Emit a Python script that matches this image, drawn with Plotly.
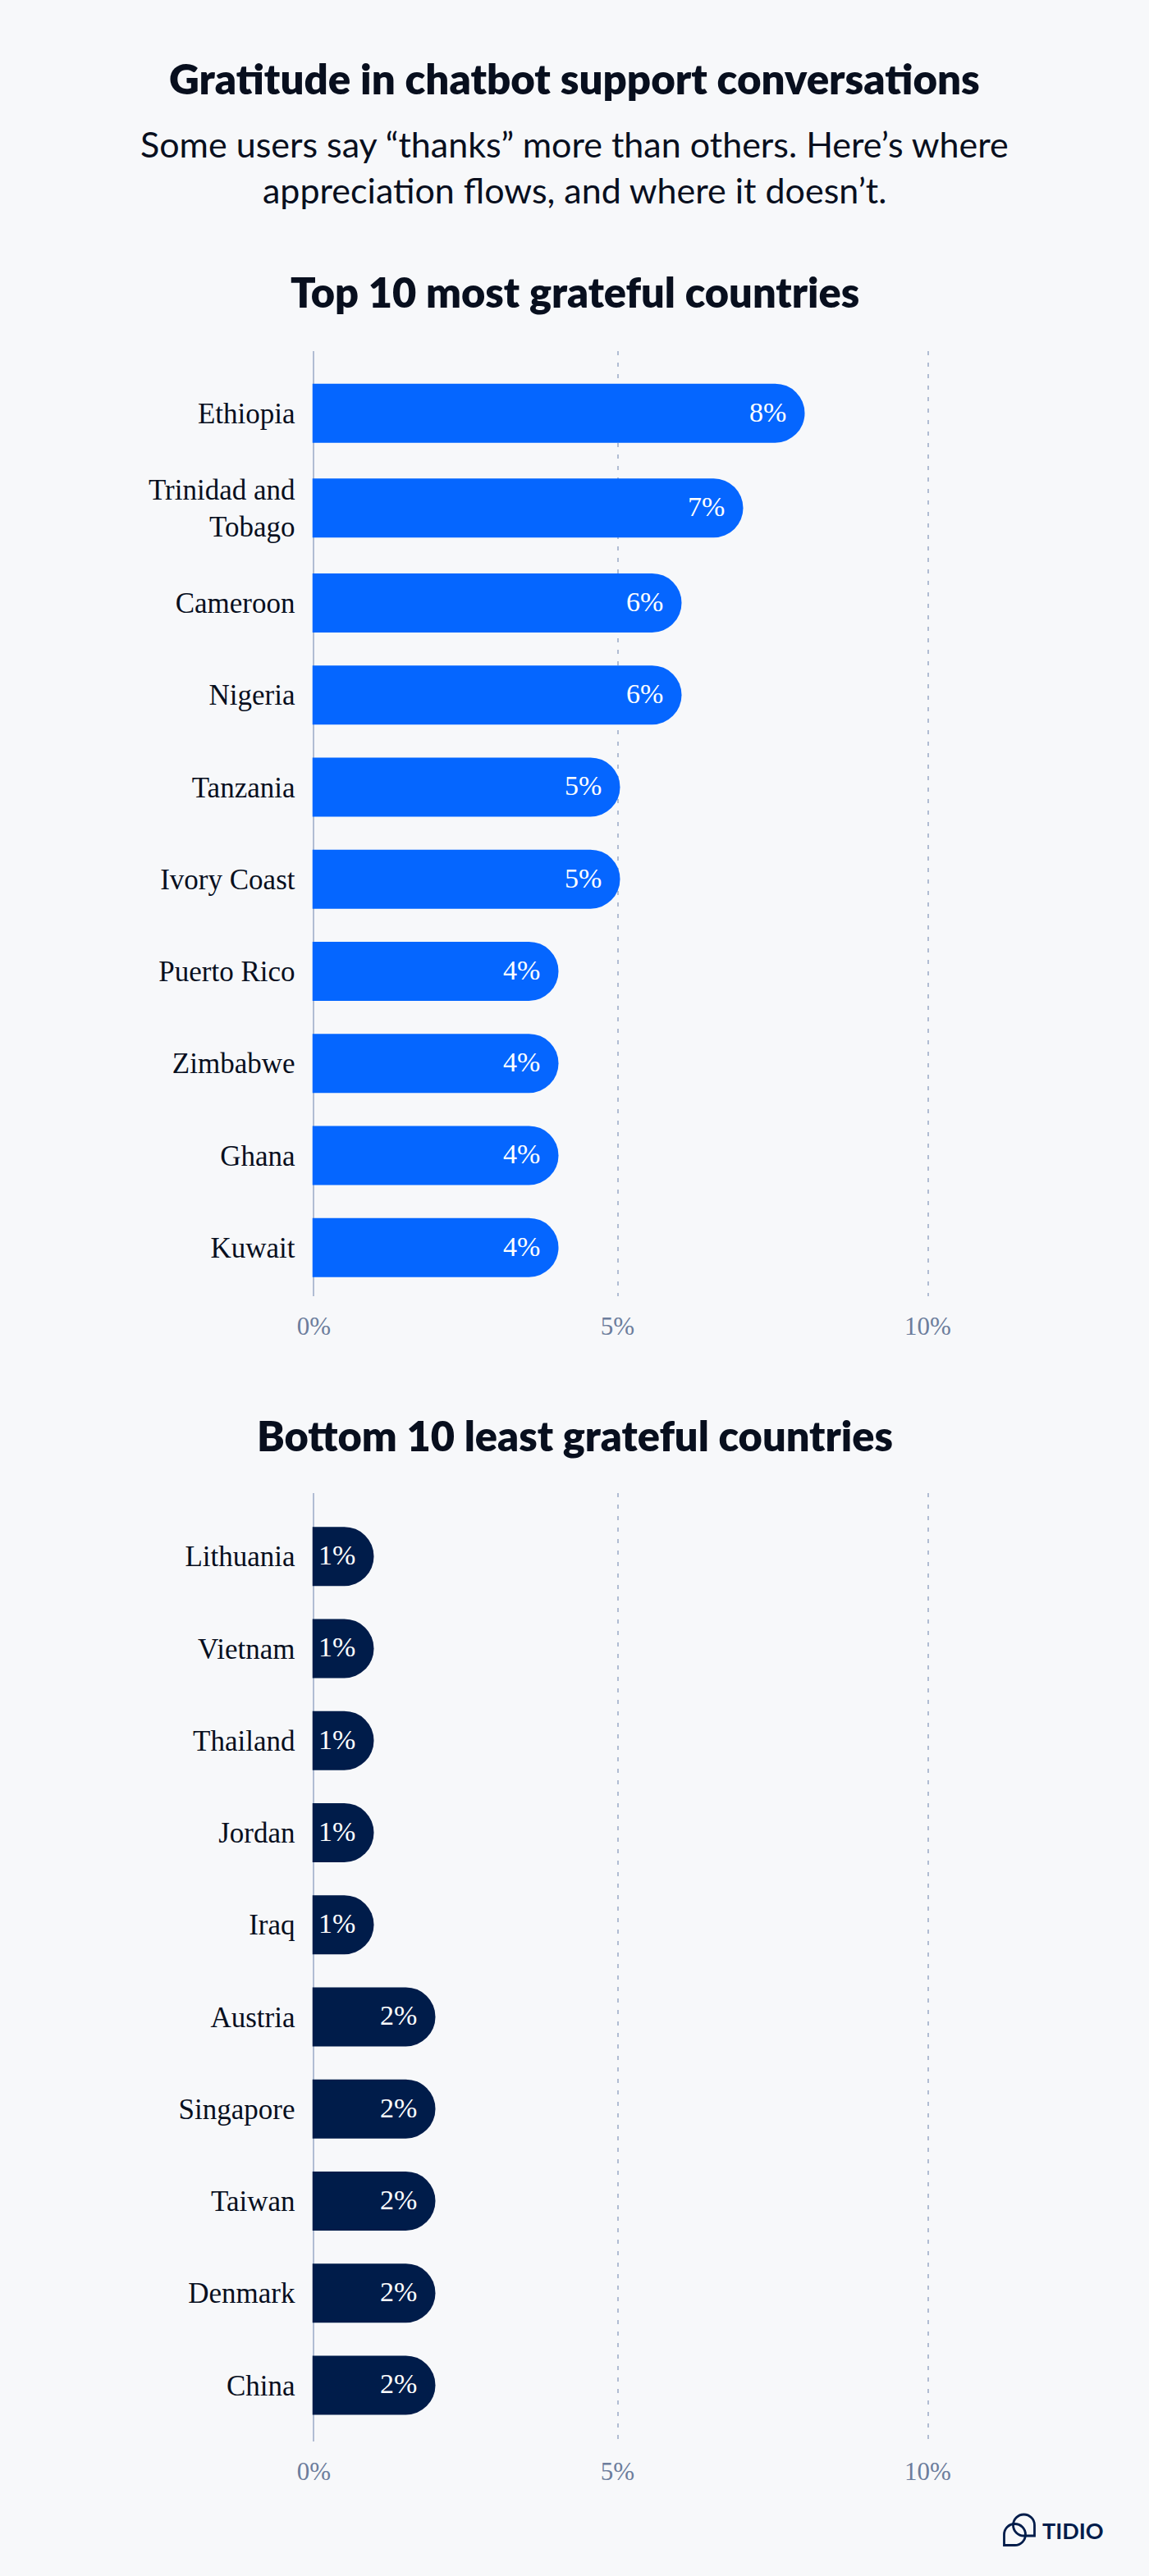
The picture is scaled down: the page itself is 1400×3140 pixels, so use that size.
import plotly.graph_objects as go

W, H = 1400, 3140
BG = "#f7f8fa"; INK = "#080f1e"; BLUE = "#0566ff"; NAVY = "#001c4a"
GRID = "#b1bdd3"; TICK = "#6c7d9c"
SANS = "Lato"; SERIF = "Liberation Serif"

top_countries = ["Ethiopia", "Trinidad and<br>Tobago", "Cameroon", "Nigeria", "Tanzania",
                 "Ivory Coast", "Puerto Rico", "Zimbabwe", "Ghana", "Kuwait"]
top_values = [8, 7, 6, 6, 5, 5, 4, 4, 4, 4]
bottom_countries = ["Lithuania", "Vietnam", "Thailand", "Jordan", "Iraq",
                    "Austria", "Singapore", "Taiwan", "Denmark", "China"]
bottom_values = [1, 1, 1, 1, 1, 2, 2, 2, 2, 2]
tick_values = [0.025, 4.96, 10]
tick_labels = ["0%", "5%", "10%"]


def px(x, y):
    return x / W, 1 - y / H


def rows(labels, pad):
    out, y = [], pad
    for lab in labels:
        h = 119 if "<br>" in lab else 112.25
        out.append(y + h / 2)
        y += h
    return out


def drop(cx, cy, r, side):
    """Teardrop logo outline: circle with one square corner, as beziers in paper coords."""
    k = 0.5523 * r
    s = side
    def p(x, y):
        a, b = px(x, y)
        return f"{a:.5f},{b:.5f}"
    return (f"M{p(cx+s*r,cy+r)} L{p(cx+s*r,cy)} C{p(cx+s*r,cy-k)} {p(cx+s*k,cy-r)} {p(cx,cy-r)} "
            f"C{p(cx-s*k,cy-r)} {p(cx-s*r,cy-k)} {p(cx-s*r,cy)} C{p(cx-s*r,cy+k)} {p(cx-s*k,cy+r)} {p(cx,cy+r)} Z")


fig = go.Figure()
annotations, shapes = [], []


def panel(labels, values, color, ytop, ybot, pad, xname, yname):
    ys = rows(labels, pad)
    xa = "x" + xname[5:]
    ya = "y" + yname[5:]
    fig.add_trace(go.Bar(x=values, y=ys, orientation="h", width=72, marker=dict(color=color, line_width=0),
                         xaxis=xa, yaxis=ya, showlegend=False, hoverinfo="skip"))
    fig.update_layout({
        xname: dict(domain=[380.5 / W, 1205.5 / W], range=[0, 11], anchor=ya, tickmode="array",
                    tickvals=tick_values, ticktext=tick_labels, showgrid=True, gridcolor=GRID, gridwidth=2,
                    griddash="5px,9px", zeroline=False, showline=False, ticks="", ticklabelstandoff=15,
                    automargin=False, tickfont=dict(family=SERIF, size=31, color=TICK)),
        yname: dict(domain=[1 - ybot / H, 1 - ytop / H], range=[ybot - ytop, 0], anchor=xa, tickmode="array",
                    tickvals=ys, ticktext=labels, showgrid=False, zeroline=False, showline=False, ticks="",
                    ticklabelstandoff=20, automargin=False, tickfont=dict(family=SERIF, size=35, color=INK)),
    })
    shapes.append(dict(type="line", xref=xa, yref=f"{ya} domain", x0=0.02, x1=0.02, y0=0, y1=1,
                       line=dict(color=GRID, width=2), layer="below"))
    for v, y in zip(values, ys):
        annotations.append(dict(x=v, y=y, xref=xa, yref=ya, text=f"{v}%", showarrow=False, xanchor="right",
                                xshift=-21, yshift=1.5, font=dict(family=SERIF, size=34, color="white")))


panel(top_countries, top_values, BLUE, 428, 1580, 19.5, "xaxis", "yaxis")
panel(bottom_countries, bottom_values, NAVY, 1820, 2976, 21, "xaxis2", "yaxis2")


def text(s, y, size, weight, x=700):
    a, b = px(x, y)
    annotations.append(dict(x=a, y=b, xref="paper", yref="paper", text=s, showarrow=False, xanchor="center",
                            yanchor="middle", font=dict(family=SANS, size=size, color=INK, weight=weight)))


text("Gratitude in chatbot support conversations", 96, 51, 800)
text("Some users say “thanks” more than others. Here’s where", 175, 43, 400)
text("appreciation flows, and where it doesn’t.", 232, 43, 400)
text("Top 10 most grateful countries", 355, 50.5, 800)
text("Bottom 10 least grateful countries", 1749, 50.5, 800)

for path in (drop(1236.5, 3089.5, 13, -1), drop(1247.5, 3078, 13, 1)):
    shapes.append(dict(type="path", xref="paper", yref="paper", path=path, line=dict(color=NAVY, width=2.8)))
a, b = px(1268, 3084)
annotations.append(dict(x=a, y=b, xref="paper", yref="paper", text="TIDIO", showarrow=False, xanchor="left",
                        yanchor="middle", font=dict(family=SANS, size=27, color=NAVY, weight=700)))

fig.update_layout(width=W, height=H, autosize=False, margin=dict(l=0, r=0, t=0, b=0, pad=0, autoexpand=False),
                  paper_bgcolor=BG, plot_bgcolor=BG, barcornerradius=36, annotations=annotations, shapes=shapes)

fig.write_html("out.html", config={"displayModeBar": False},
               post_script="document.body.style.margin='0';document.body.style.background='#f7f8fa';")
